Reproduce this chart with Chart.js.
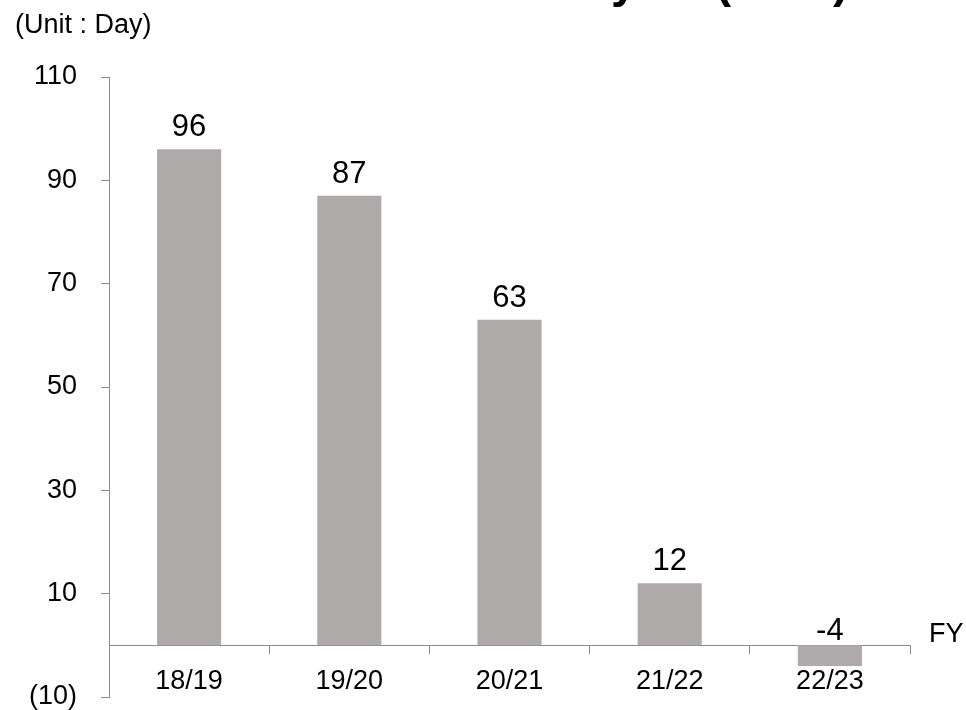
<!DOCTYPE html>
<html><head><meta charset="utf-8">
<script src="https://cdn.jsdelivr.net/npm/chart.js@4"></script>
<style>html,body{margin:0;padding:0;background:#fff;overflow:hidden}#wrap{width:966px;height:710px;position:relative}</style>
</head><body><div id="wrap"><canvas id="c" width="966" height="710"></canvas></div>
<script>
const categories = ['18/19', '19/20', '20/21', '21/22', '22/23'];
const days = [96, 87, 63, 12, -4];
const yTickValues = [-10, 10, 30, 50, 70, 90, 110];
const titleText = 'Cash Conversion Cycle (CCC)';
const unitText = '(Unit : Day)';
const xUnitText = 'FY';

const FONT = '"Liberation Sans", Arial, sans-serif';
const AXIS = '#8c8c8c';

function fmtTick(v) { return v < 0 ? '(' + Math.abs(v) + ')' : String(v); }

const textPlugin = {
  id: 'texts',
  afterDatasetsDraw(chart) {
    const ctx = chart.ctx;
    const meta = chart.getDatasetMeta(0);
    const zeroY = chart.scales.y.getPixelForValue(0);
    ctx.save();
    ctx.fillStyle = '#000';
    ctx.textAlign = 'center';
    ctx.textBaseline = 'alphabetic';
    ctx.font = '31px ' + FONT;
    meta.data.forEach((bar, i) => {
      const v = days[i];
      const y = v >= 0 ? bar.y - 13 : zeroY - 5;
      ctx.fillText(String(v), bar.x, y);
    });
    // title (cut off at top)
    ctx.font = 'bold 47px ' + FONT;
    ctx.fillText(titleText, 513, -3);
    // unit
    ctx.textAlign = 'left';
    ctx.font = '27px ' + FONT;
    ctx.fillText(unitText, 15, 33);
    ctx.fillText(xUnitText, 929, 642);
    ctx.restore();
  }
};

new Chart(document.getElementById('c'), {
  type: 'bar',
  data: {
    labels: categories,
    datasets: [{
      data: days,
      backgroundColor: '#aeaaa9',
      borderWidth: 0,
      barPercentage: 0.4,
      categoryPercentage: 1.0
    }]
  },
  options: {
    responsive: false,
    animation: false,
    devicePixelRatio: 1,
    layout: { padding: { top: 77, right: 56, bottom: 13, left: 0 } },
    plugins: { legend: { display: false }, tooltip: { enabled: false }, title: { display: false } },
    scales: {
      x: {
        type: 'category',
        position: { y: 0 },
        offset: true,
        afterFit: s => { s.height = 0; s.paddingLeft = 0; s.paddingRight = 0; },
        grid: { display: true, drawOnChartArea: false, drawTicks: true, tickLength: 8, color: AXIS, offset: true, lineWidth: 1 },
        border: { display: true, color: AXIS, width: 1 },
        ticks: { color: '#000', font: { family: FONT, size: 27 }, padding: 12, maxRotation: 0, autoSkip: false }
      },
      y: {
        min: -10,
        max: 110,
        afterBuildTicks: s => { s.ticks = yTickValues.map(v => ({ value: v })); },
        afterFit: s => { s.width = 109; s.paddingTop = 0; s.paddingBottom = 0; },
        grid: { display: true, drawOnChartArea: false, drawTicks: true, tickLength: 8, color: AXIS, lineWidth: 1 },
        border: { display: true, color: AXIS, width: 1 },
        ticks: { color: '#000', font: { family: FONT, size: 27 }, padding: 24, callback: v => fmtTick(v) }
      }
    }
  },
  plugins: [textPlugin]
});
</script>
</body></html>
